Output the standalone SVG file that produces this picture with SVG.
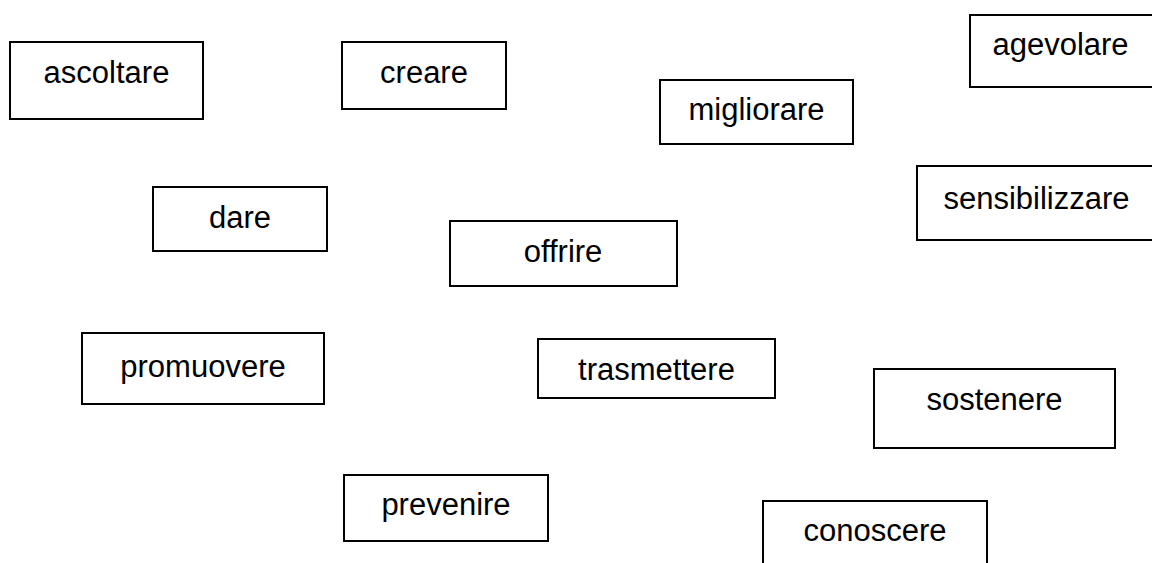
<svg xmlns="http://www.w3.org/2000/svg" width="1152" height="563" viewBox="0 0 1152 563">
<style>
.box{fill:#fff;stroke:#000;stroke-width:2}
.lbl{font-family:"Liberation Sans",Arial,sans-serif;font-size:31px;fill:#000;text-anchor:middle}
</style>
<rect width="1152" height="563" fill="#fff"/>
<g id="connectors"></g>
<g id="n-ascoltare"><rect class="box" x="10" y="42" width="193" height="77"/><text class="lbl" x="106.5" y="83">ascoltare</text></g>
<g id="n-creare"><rect class="box" x="342" y="42" width="164" height="67"/><text class="lbl" x="424" y="83">creare</text></g>
<g id="n-agevolare"><rect class="box" x="970" y="15" width="186" height="72"/><text class="lbl" x="1060.5" y="55">agevolare</text></g>
<g id="n-migliorare"><rect class="box" x="660" y="80" width="193" height="64"/><text class="lbl" x="756.5" y="120">migliorare</text></g>
<g id="n-sensibilizzare"><rect class="box" x="917" y="166" width="240" height="74"/><text class="lbl" x="1036.5" y="209">sensibilizzare</text></g>
<g id="n-dare"><rect class="box" x="153" y="187" width="174" height="64"/><text class="lbl" x="240" y="228">dare</text></g>
<g id="n-offrire"><rect class="box" x="450" y="221" width="227" height="65"/><text class="lbl" x="563" y="262">offrire</text></g>
<g id="n-promuovere"><rect class="box" x="82" y="333" width="242" height="71"/><text class="lbl" x="203" y="377">promuovere</text></g>
<g id="n-trasmettere"><rect class="box" x="538" y="339" width="237" height="59"/><text class="lbl" x="656.5" y="380">trasmettere</text></g>
<g id="n-sostenere"><rect class="box" x="874" y="369" width="241" height="79"/><text class="lbl" x="994.5" y="410">sostenere</text></g>
<g id="n-prevenire"><rect class="box" x="344" y="475" width="204" height="66"/><text class="lbl" x="446" y="515">prevenire</text></g>
<g id="n-conoscere"><rect class="box" x="763" y="501" width="224" height="70"/><text class="lbl" x="875" y="541">conoscere</text></g>
</svg>
